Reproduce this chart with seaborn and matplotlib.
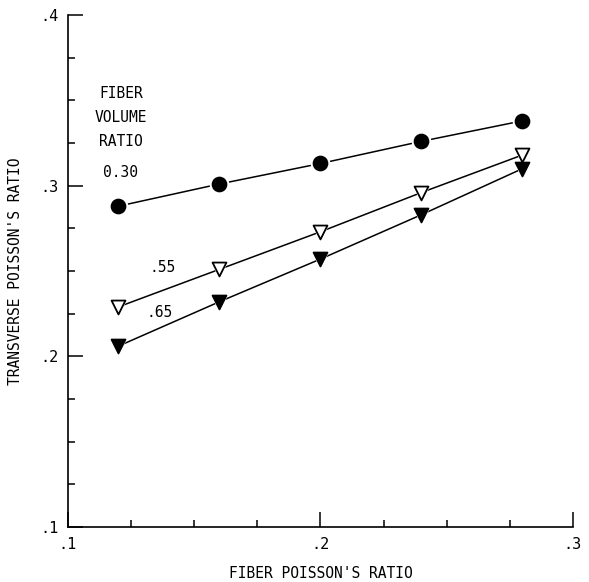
import matplotlib
matplotlib.use('Agg')
import matplotlib.pyplot as plt
import matplotlib.ticker as mticker
import seaborn as sns
import pandas as pd

# values
fiber_poisson = [0.12, 0.16, 0.20, 0.24, 0.28]
vr_030 = [0.288, 0.301, 0.313, 0.326, 0.338]
vr_055 = [0.229, 0.251, 0.273, 0.296, 0.318]
vr_065 = [0.206, 0.232, 0.257, 0.283, 0.310]

series = [
    ('0.30', vr_030, 'o', 'black'),
    ('.55', vr_055, 'v', 'white'),
    ('.65', vr_065, 'v', 'black'),
]

sns.set_style('ticks')
plt.rcParams['font.family'] = ['DejaVu Sans Mono']
plt.rcParams['text.color'] = 'black'
plt.rcParams['axes.labelcolor'] = 'black'
plt.rcParams['xtick.color'] = 'black'
plt.rcParams['ytick.color'] = 'black'

fig = plt.figure(figsize=(5.89, 5.82), dpi=100)
ax = fig.add_axes([0.1154, 0.0945, 0.8574, 0.8797])

for name, vals, mk, face in series:
    df = pd.DataFrame({'x': fiber_poisson, 'y': vals})
    sns.lineplot(data=df, x='x', y='y', ax=ax, color='black', lw=1.1, zorder=1)
    # white halo so the line stops short of each marker
    sns.scatterplot(data=df, x='x', y='y', ax=ax, marker=mk, s=200,
                    color='white', edgecolor='white', linewidth=0, zorder=2)
    sns.scatterplot(data=df, x='x', y='y', ax=ax, marker=mk, s=100,
                    color=face, edgecolor='black', linewidth=1.3, zorder=3)

ax.set_xlim(0.1, 0.3)
ax.set_ylim(0.1, 0.4)
ax.xaxis.set_major_locator(mticker.MultipleLocator(0.1))
ax.yaxis.set_major_locator(mticker.MultipleLocator(0.1))
ax.xaxis.set_minor_locator(mticker.MultipleLocator(0.025))
ax.yaxis.set_minor_locator(mticker.MultipleLocator(0.025))
fmt = mticker.FuncFormatter(lambda v, p: ('%.1f' % v).lstrip('0'))
ax.xaxis.set_major_formatter(fmt)
ax.yaxis.set_major_formatter(fmt)
ax.tick_params(which='major', direction='in', length=11, width=1.1,
               labelsize=11, pad=7, color='black', labelcolor='black')
ax.tick_params(which='minor', direction='in', length=5, width=1.1,
               color='black')

sns.despine(ax=ax)
for side in ['left', 'bottom']:
    ax.spines[side].set_linewidth(1.2)
    ax.spines[side].set_color('black')

ax.set_xlabel("FIBER POISSON'S RATIO", fontsize=10.5, labelpad=10)
ax.set_ylabel("TRANSVERSE POISSON'S RATIO", fontsize=10.5, labelpad=12)

ax.text(0.121, 0.340, 'FIBER\nVOLUME\nRATIO', ha='center', va='center',
        fontsize=10.5, linespacing=1.75)
ax.text(0.121, 0.308, '0.30', ha='center', va='center', fontsize=10.5)
ax.text(0.1376, 0.252, '.55', ha='center', va='center', fontsize=10.5)
ax.text(0.1364, 0.2257, '.65', ha='center', va='center', fontsize=10.5)

fig.savefig('out.png', dpi=100, facecolor='white')
